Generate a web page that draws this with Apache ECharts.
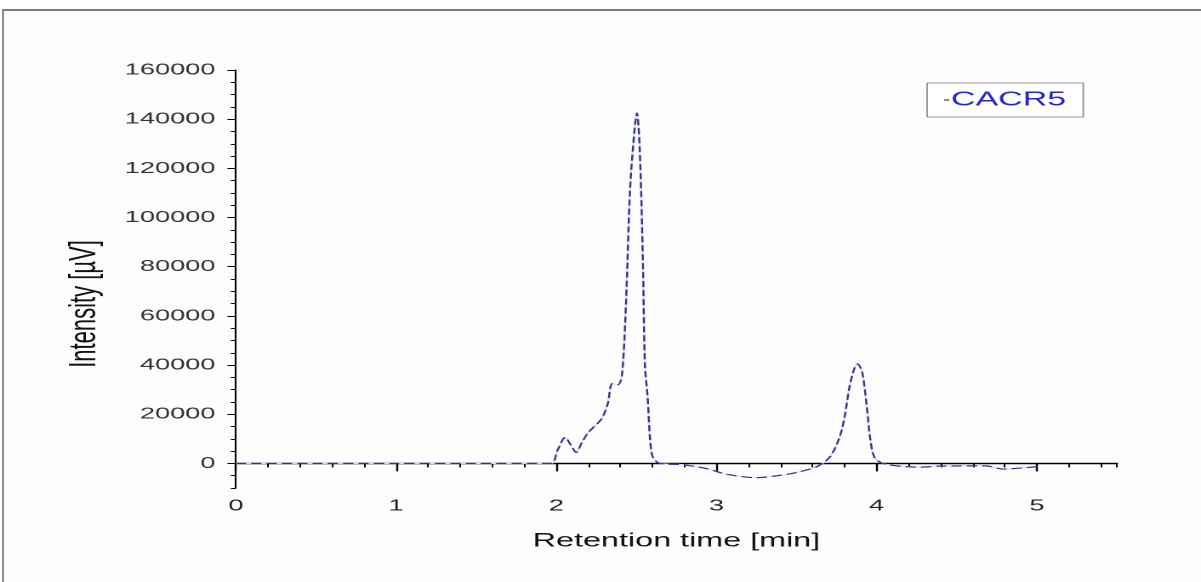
<!DOCTYPE html>
<html>
<head>
<meta charset="utf-8">
<title>CACR5</title>
<script src="https://cdn.jsdelivr.net/npm/echarts@6/dist/echarts.min.js"></script>
<style>
    html, body { margin: 0; padding: 0; background: #fff; overflow: hidden; }
    #frame { position: absolute; left: 2px; top: 9px; width: 1199px; height: 573px;
        border-top: 2px solid #7c7c7c; border-left: 2px solid #8c8c8c; background: #fdfdfd; }
    #chart { position: absolute; left: 0; top: 0; width: 706px; height: 582px;
        transform: scaleX(1.7011); transform-origin: 0 0; }
</style>
</head>
<body>
<div id="frame"></div>
<div id="chart"></div>
<script>
// retention time [min]
var timeData = [0, 0.5, 1.0, 1.5, 1.9, 1.97, 2.01, 2.056, 2.09, 2.124, 2.16, 2.2, 2.28, 2.32, 2.35, 2.385,
    2.41, 2.435, 2.46, 2.49, 2.503, 2.52, 2.54, 2.553, 2.57, 2.585, 2.6, 2.63, 2.68, 2.76, 2.93, 3.07,
    3.25, 3.38, 3.5, 3.63, 3.71, 3.77, 3.8, 3.83, 3.86, 3.88, 3.91, 3.94, 3.96, 3.99, 4.06, 4.27, 4.39,
    4.68, 4.79, 4.95, 5.0];
// intensity [uV]
var intensityData = [0, 0, 0, 0, 0, 0, 5700, 10600, 7500, 4500, 8500, 12600, 17900, 24000, 32500, 32000,
    36000, 65000, 111000, 137000, 142500, 129000, 84000, 40000, 27000, 10000, 3000, 500, -300, -400, -2000, -4500,
    -5800, -5000, -3700, -1200, 2800, 11000, 19000, 31000, 38500, 40500, 37000, 22000, 10000, 2000, -400, -1500, -1100,
    -1000, -2300, -1600, -1300];
var xTicks = [0, 1, 2, 3, 4, 5];
var yTicks = [0, 20000, 40000, 60000, 80000, 100000, 120000, 140000, 160000];
var seriesName = 'CACR5';

var chart_page = {
    chart : null,
    init : function() {
        this.chart = echarts.init(document.getElementById('chart'), null, { devicePixelRatio : 2 });
        var points = [];
        for (var i = 0; i < timeData.length; i++) {
            points.push([ timeData[i], intensityData[i] ]);
        }
        var font = "'Liberation Sans', Arial, sans-serif";
        var option = {
            animation : false,
            backgroundColor : 'transparent',
            grid : {
                left : 138.7,
                right : 49.4,
                top : 70,
                bottom : 94
            },
            legend : {
                left : 545,
                top : 83,
                padding : [ 7, 10, 7, 10 ],
                itemWidth : 3,
                itemHeight : 1.5,
                itemGap : 0,
                backgroundColor : '#fff',
                borderColor : '#999',
                borderWidth : 1,
                textStyle : {
                    color : '#2626c8',
                    fontSize : 20,
                    fontFamily : font,
                    padding : [ 0, 0, 0, -4 ]
                },
                data : [ {
                    name : seriesName,
                    icon : 'rect',
                    itemStyle : { color : '#666' }
                } ]
            },
            xAxis : [ {
                type : 'value',
                min : 0,
                max : 5.5,
                interval : 0.2,
                name : 'Retention time [min]',
                nameLocation : 'middle',
                nameGap : 44,
                nameTextStyle : { color : '#111', fontSize : 19, fontFamily : font },
                axisLine : { lineStyle : { color : '#000', width : 1.4 } },
                axisTick : { length : 4, lineStyle : { color : '#000' } },
                axisLabel : { show : false },
                splitLine : { show : false }
            }, {
                type : 'value',
                min : 0,
                max : 5.5,
                position : 'bottom',
                axisLine : { show : false },
                axisTick : { customValues : xTicks, length : 8, lineStyle : { color : '#000', width : 1.2 } },
                axisLabel : { customValues : xTicks, margin : 10, color : '#222', fontSize : 16, fontFamily : font },
                splitLine : { show : false }
            } ],
            yAxis : [ {
                type : 'value',
                min : -10000,
                max : 160000,
                interval : 5000,
                name : 'Intensity [\u00b5V]',
                nameLocation : 'middle',
                nameGap : 78,
                nameTextStyle : { color : '#111', fontSize : 22, fontFamily : font, padding : [ 0, 50, 0, 0 ] },
                axisLine : { lineStyle : { color : '#000', width : 1 } },
                axisTick : { length : 3, lineStyle : { color : '#000' } },
                axisLabel : { show : false },
                splitLine : { show : false }
            }, {
                type : 'value',
                min : -10000,
                max : 160000,
                position : 'left',
                axisLine : { show : false },
                axisTick : { customValues : yTicks, length : 5, lineStyle : { color : '#000' } },
                axisLabel : {
                    customValues : yTicks,
                    margin : 12,
                    color : '#333',
                    fontSize : 16,
                    fontFamily : font,
                    formatter : function(v) {
                        return String(v);
                    }
                },
                splitLine : { show : false }
            } ],
            series : [ {
                name : seriesName,
                type : 'line',
                data : points,
                smooth : 0.3,
                symbol : 'none',
                silent : true,
                lineStyle : { color : '#dcdcf2', width : 1.2 }
            }, {
                name : seriesName,
                type : 'line',
                data : points,
                smooth : 0.3,
                symbol : 'none',
                lineStyle : { color : '#34348a', width : 1.2, type : [ 6, 3 ] }
            } ]
        };
        this.chart.setOption(option);
    }
};

chart_page.init();
</script>
</body>
</html>
